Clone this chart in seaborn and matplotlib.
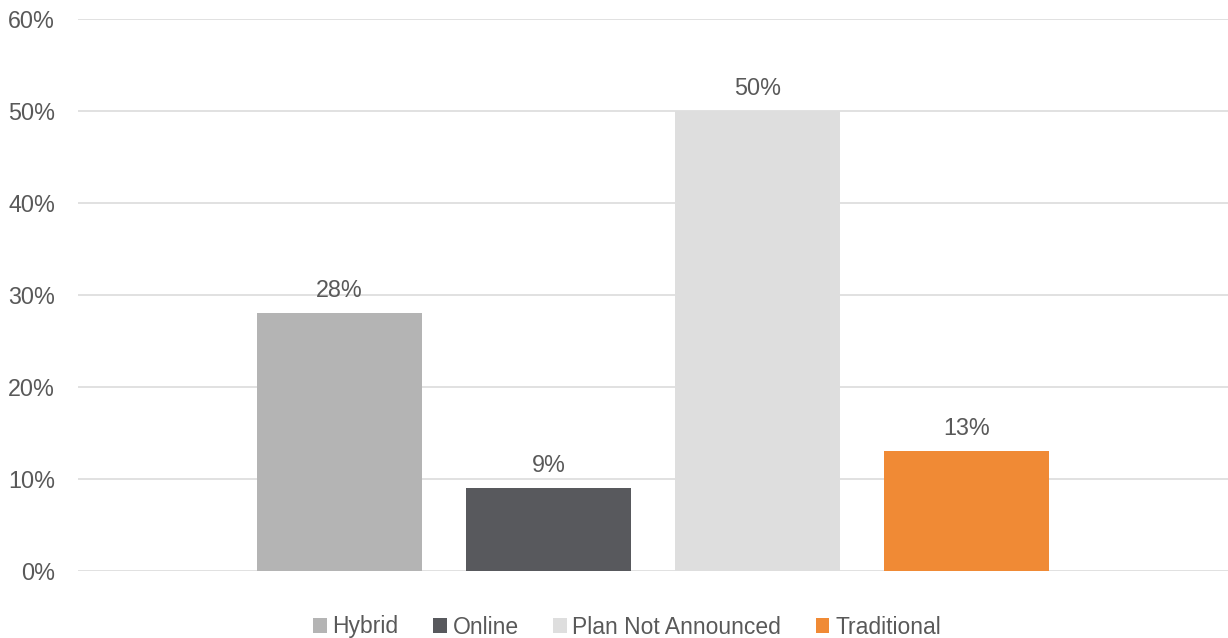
import matplotlib
matplotlib.use("Agg")
import matplotlib.pyplot as plt
import seaborn as sns
import pandas as pd
from matplotlib.patches import Patch
from matplotlib.ticker import FuncFormatter

categories = ["Hybrid", "Online", "Plan Not Announced", "Traditional"]
values = [28, 9, 50, 13]
colors = ["#B4B4B4", "#58595D", "#DEDEDE", "#F08A35"]

df = pd.DataFrame({"group": [""] * len(categories), "type": categories, "value": values})

sns.set_theme(style="white")
plt.rcParams["font.family"] = ["Liberation Sans", "DejaVu Sans"]

fig = plt.figure(figsize=(12.28, 6.38), dpi=100)
ax = fig.add_axes([78 / 1228, 67 / 638, 1 - 78 / 1228, 552 / 638])

sns.barplot(data=df, x="group", y="value", hue="type", hue_order=categories,
            palette=colors, width=0.727, gap=0.21, saturation=1, legend=False,
            linewidth=0, ax=ax)

ax.set_xlim(-0.5, 0.5)
ax.set_ylim(0, 60)
ax.set_yticks(range(0, 61, 10))
ax.yaxis.set_major_formatter(FuncFormatter(lambda v, p: f"{int(v)}%"))
ax.set_xticks([])
ax.set_xlabel("")
ax.set_ylabel("")
ax.grid(axis="y", color="#D9D9D9", linewidth=1.1)
ax.set_axisbelow(True)
for s in ax.spines.values():
    s.set_visible(False)
ax.tick_params(axis="y", length=0, pad=16.5, labelsize=16.8, labelcolor="#595959")

for cont in ax.containers:
    ax.bar_label(cont, fmt="%d%%", padding=8, fontsize=16.8, color="#595959")

handles = [Patch(facecolor=c, edgecolor="none", label=l) for c, l in zip(colors, categories)]
fig.legend(handles=handles, loc="center", bbox_to_anchor=(627 / 1228, 11 / 638), ncol=4,
           frameon=False, fontsize=16.5, labelcolor="#595959", handlelength=0.6, handleheight=0.6,
           handletextpad=0.25, columnspacing=1.5, borderpad=0)

fig.savefig("out.png", dpi=100)
